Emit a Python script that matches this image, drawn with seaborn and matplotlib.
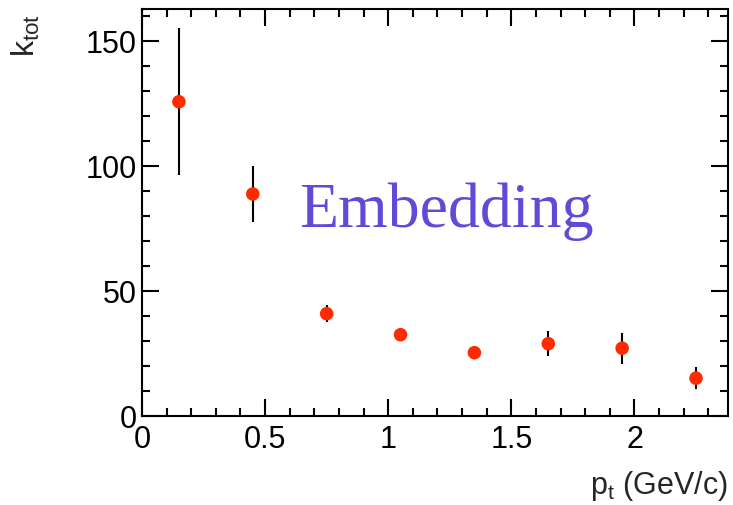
import numpy as np
import pandas as pd
import matplotlib
matplotlib.use("Agg")
import matplotlib.pyplot as plt
from matplotlib.ticker import MultipleLocator, FuncFormatter
import seaborn as sns

# -----------------------------
# data
# -----------------------------
pt = [0.15, 0.45, 0.75, 1.05, 1.35, 1.65, 1.95, 2.25]
k_tot = [125.6, 88.7, 40.8, 32.4, 25.2, 28.8, 27.0, 15.0]
k_err = [29.5, 11.2, 3.5, 2.0, 1.5, 5.0, 6.2, 4.3]

df = pd.DataFrame({"pt": pt, "k_tot": k_tot, "err": k_err})

# -----------------------------
# style
# -----------------------------
sns.set_style("ticks")
plt.rcParams["font.family"] = ["Liberation Sans", "DejaVu Sans"]
plt.rcParams["mathtext.fontset"] = "custom"
plt.rcParams["mathtext.rm"] = "Liberation Sans"
plt.rcParams["mathtext.it"] = "Liberation Sans"

fig = plt.figure(figsize=(7.33, 5.06), dpi=100)
ax = fig.add_axes([0.1937, 0.1765, 0.7995, 0.8037])

# error bars first, markers on top
ax.errorbar(df["pt"], df["k_tot"], yerr=df["err"], fmt="none",
            ecolor="black", elinewidth=1.5, capsize=0, zorder=2)
sns.scatterplot(data=df, x="pt", y="k_tot", ax=ax, color="#ff2a00",
                s=95, edgecolor="none", zorder=3, legend=False)

ax.set_xlim(0, 2.38)
ax.set_ylim(0, 162.7)
ax.xaxis.set_major_locator(MultipleLocator(0.5))
ax.xaxis.set_minor_locator(MultipleLocator(0.1))
ax.yaxis.set_major_locator(MultipleLocator(50))
ax.yaxis.set_minor_locator(MultipleLocator(10))
ax.xaxis.set_major_formatter(FuncFormatter(lambda v, p: f"{v:g}"))

ax.tick_params(which="both", direction="in", top=True, right=True,
               width=1.5, labelsize=22, colors="black")
ax.tick_params(which="major", length=12)
ax.tick_params(which="minor", length=6)
ax.tick_params(axis="x", pad=6)
ax.tick_params(axis="y", pad=4)
for sp in ax.spines.values():
    sp.set_visible(True)
    sp.set_linewidth(1.5)
    sp.set_color("black")

ax.set_xlabel(r"p$_{\mathregular{t}}$ (GeV/c)", fontsize=22, ha="right")
ax.xaxis.set_label_coords(1.0, -0.128)
ax.set_ylabel(r"k$_{\mathregular{tot}}$", fontsize=23, ha="right")
ax.yaxis.set_label_coords(-0.17, 0.99)

ax.text(1.235, 82, "Embedding", fontsize=46, color="#5f4bd8",
        family=["Liberation Serif", "DejaVu Serif"], ha="center", va="center")

fig.savefig("out.png", dpi=100)
